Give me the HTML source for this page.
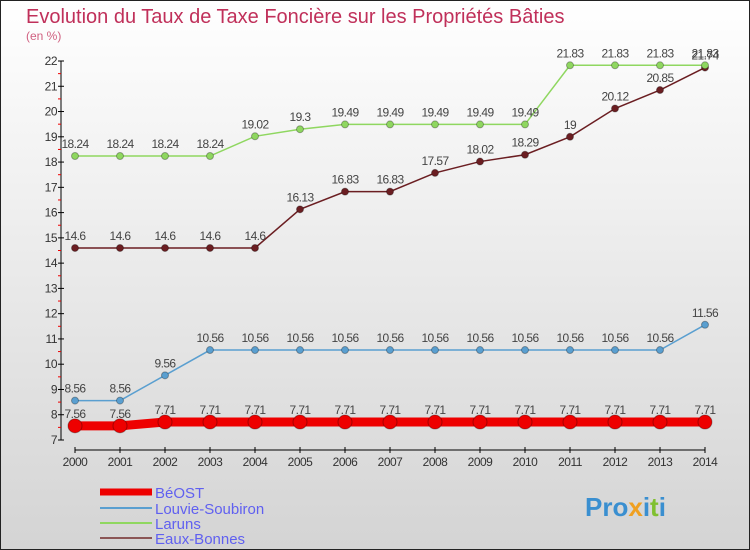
<!DOCTYPE html>
<html><head><meta charset="utf-8"><style>
body{margin:0}
svg{display:block;font-family:"Liberation Sans",sans-serif}
</style></head><body>
<svg width="750" height="550">
<defs><linearGradient id="bg" x1="0" y1="0" x2="0" y2="1"><stop offset="0" stop-color="#ffffff"/><stop offset="1" stop-color="#d4d4d4"/></linearGradient></defs>
<rect x="0.5" y="0.5" width="749" height="549" fill="url(#bg)" stroke="#222"/>
<text x="26" y="23" font-size="20" fill="#c0305a">Evolution du Taux de Taxe Foncière sur les Propriétés Bâties</text>
<text x="26" y="40" font-size="12" fill="#d06080">(en %)</text>
<g id="axes"></g>
<g id="series"></g>
<g id="legend"></g>
<text x="585" y="516" font-size="26" font-weight="bold" fill="#3a8fd0">Pro<tspan fill="#f0a020">x</tspan><tspan fill="#3a8fd0">i</tspan><tspan fill="#80c030">t</tspan><tspan fill="#3a8fd0">i</tspan></text>
</svg>
<script>
const years=[2000,2001,2002,2003,2004,2005,2006,2007,2008,2009,2010,2011,2012,2013,2014];
const yTicks=[7,8,9,10,11,12,13,14,15,16,17,18,19,20,21,22];
const beost=[7.56,7.56,7.71,7.71,7.71,7.71,7.71,7.71,7.71,7.71,7.71,7.71,7.71,7.71,7.71];
const louvie=[8.56,8.56,9.56,10.56,10.56,10.56,10.56,10.56,10.56,10.56,10.56,10.56,10.56,10.56,11.56];
const laruns=[18.24,18.24,18.24,18.24,19.02,19.3,19.49,19.49,19.49,19.49,19.49,21.83,21.83,21.83,21.83];
const eaux=[14.6,14.6,14.6,14.6,14.6,16.13,16.83,16.83,17.57,18.02,18.29,19,20.12,20.85,21.74];
const NS="http://www.w3.org/2000/svg";
const X=i=>75+i*45, Y=v=>440-(v-7)*(379/15);
function mk(t,a,p){const e=document.createElementNS(NS,t);for(const k in a)e.setAttribute(k,a[k]);p.appendChild(e);return e;}
const ax=document.getElementById('axes');
let yl=mk('line',{x1:61,y1:Y(22),x2:61,y2:Y(7),stroke:'#000'},ax);


yTicks.forEach(v=>{
 mk('line',{x1:58,x2:64,y1:Y(v),y2:Y(v),stroke:'#000'},ax);
 if(v<22)mk('line',{x1:58,x2:61,y1:Y(v+0.5),y2:Y(v+0.5),stroke:'#e00'},ax);
 const t=mk('text',{x:57,y:Y(v)+4,'font-size':12,'text-anchor':'end',fill:'#333','letter-spacing':'-0.5'},ax);t.textContent=v;
 
 
});
let xl=mk('line',{x1:75,x2:705,y1:450,y2:450,stroke:'#000'},ax);


years.forEach((y,i)=>{
 mk('line',{x1:X(i),x2:X(i),y1:447,y2:453,stroke:'#000'},ax);
 const t=mk('text',{x:X(i),y:466,'font-size':12,'text-anchor':'middle',fill:'#333','letter-spacing':'-0.5'},ax);t.textContent=y;
 
 
});
const sg=document.getElementById('series');
function series(d,col,w,r,name){
 const g=mk('g',{},sg);
 
 
 mk('polyline',{points:d.map((v,i)=>X(i)+','+Y(v)).join(' '),fill:'none',stroke:col,'stroke-width':w},g);
 d.forEach((v,i)=>{
  const c=mk('circle',{cx:X(i),cy:Y(v),r:r,fill:col,stroke:'rgba(0,0,0,0.3)','stroke-width':1},g);
  
  
  const t=mk('text',{x:X(i),y:Y(v)-8,'font-size':12,'text-anchor':'middle',fill:'#444','letter-spacing':'-0.6'},g);t.textContent=v;
  
  
 });
}
series(eaux,'#6b1e22',1.5,3.5,'eaux-bonnes');
series(laruns,'#8fd760',1.5,3.5,'laruns');
series(louvie,'#5a9fd0',1.5,3.5,'louvie-soubiron');
series(beost,'#ee0000',9,7,'beost');
const lg=document.getElementById('legend');
[['BéOST','#ee0000',7,492],['Louvie-Soubiron','#5a9fd0',2,508],['Laruns','#8fd760',2,523],['Eaux-Bonnes','#8a5555',2,538]].forEach(([n,c,w,y])=>{
 const g=mk('g',{},lg);
 
 
 mk('line',{x1:100,x2:152,y1:y,y2:y,stroke:c,'stroke-width':w},g);
 const t=mk('text',{x:155,y:y+6,'font-size':15,fill:'#6060f0'},g);t.textContent=n;
});
</script>
</body></html>
